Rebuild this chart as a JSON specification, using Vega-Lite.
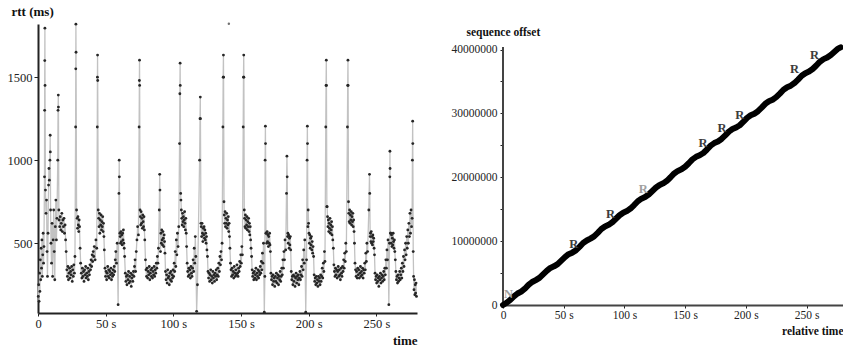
{
  "$schema": "https://vega.github.io/schema/vega-lite/v6.json",
  "background": "white",
  "padding": {"left": 7, "top": 5, "right": 0, "bottom": 0},
  "spacing": 31,
  "config": {
    "font": "Liberation Serif",
    "view": {"stroke": null},
    "axis": {"grid": false, "domainColor": "#222", "tickColor": "#222", "labelColor": "#222", "titleColor": "#111", "labelFlush": false}
  },
  "hconcat": [
    {
      "width": 379,
      "height": 289,
      "layer": [
        {
          "data": {"name": "rtt", "values": [
{"t":0.2,"v":180},{"t":0.5,"v":250},{"t":0.8,"v":150},{"t":1.1,"v":320},{"t":1.4,"v":210},{"t":1.7,"v":400},{"t":2.0,"v":280},{"t":2.3,"v":470},{"t":2.6,"v":350},{"t":2.9,"v":520},{"t":3.2,"v":300},{"t":3.5,"v":430},{"t":3.8,"v":560},{"t":4.1,"v":380},{"t":4.4,"v":480},
{"t":4.8,"v":900},{"t":4.9,"v":1300},{"t":5.0,"v":1600},{"t":5.1,"v":1795},{"t":5.2,"v":1450},
{"t":5.5,"v":820},{"t":5.9,"v":680},{"t":6.3,"v":760},{"t":6.7,"v":450},{"t":7.0,"v":300},{"t":7.4,"v":560},{"t":7.8,"v":850},{"t":8.1,"v":950},{"t":8.4,"v":880},
{"t":8.8,"v":1000},{"t":9.0,"v":1150},{"t":9.1,"v":1050},{"t":9.3,"v":700},{"t":9.6,"v":500},{"t":10.0,"v":380},{"t":10.4,"v":620},{"t":10.8,"v":300},{"t":11.2,"v":520},{"t":11.6,"v":700},{"t":12.0,"v":450},{"t":12.4,"v":280},{"t":12.8,"v":600},{"t":13.2,"v":760},{"t":13.6,"v":520},{"t":14.0,"v":650},
{"t":14.6,"v":1000},{"t":14.8,"v":1300},{"t":15.0,"v":1392},{"t":15.1,"v":1320},{"t":15.4,"v":700},
{"t":15.6,"v":640},{"t":16.0,"v":600},{"t":16.4,"v":660},{"t":16.8,"v":580},{"t":17.2,"v":620},{"t":17.6,"v":680},{"t":18.0,"v":570},{"t":18.4,"v":640},{"t":18.8,"v":600},{"t":19.2,"v":650},{"t":19.6,"v":560},{"t":20.0,"v":610},{"t":20.4,"v":520},{"t":20.8,"v":450},
{"t":21.3,"v":340},{"t":21.7,"v":300},{"t":22.1,"v":360},{"t":22.5,"v":280},{"t":22.9,"v":320},{"t":23.3,"v":350},{"t":23.7,"v":290},{"t":24.1,"v":330},{"t":24.5,"v":310},{"t":24.9,"v":360},{"t":25.3,"v":270},{"t":25.7,"v":340},{"t":26.1,"v":300},{"t":26.5,"v":370},{"t":26.9,"v":320},{"t":27.3,"v":420},
{"t":27.8,"v":1200},{"t":27.9,"v":1550},{"t":28.0,"v":1819},{"t":28.1,"v":1650},{"t":28.5,"v":700},
{"t":28.9,"v":650},{"t":29.2,"v":590},{"t":29.5,"v":660},{"t":29.8,"v":610},{"t":30.1,"v":570},{"t":30.4,"v":640},{"t":30.7,"v":600},{"t":31.1,"v":470},{"t":31.5,"v":380},
{"t":32.0,"v":320},{"t":32.4,"v":290},{"t":32.8,"v":350},{"t":33.2,"v":300},{"t":33.6,"v":330},{"t":34.0,"v":270},{"t":34.4,"v":340},{"t":34.8,"v":310},{"t":35.2,"v":360},{"t":35.6,"v":290},{"t":36.0,"v":320},{"t":36.4,"v":300},{"t":36.8,"v":350},{"t":37.2,"v":280},{"t":37.6,"v":330},{"t":38.0,"v":310},{"t":38.4,"v":370},{"t":38.8,"v":340},{"t":39.2,"v":400},{"t":39.6,"v":360},{"t":40.0,"v":430},{"t":40.4,"v":390},{"t":40.8,"v":450},{"t":41.2,"v":420},{"t":41.6,"v":480},{"t":42.2,"v":400},{"t":42.8,"v":520},{"t":43.4,"v":470},
{"t":43.8,"v":1200},{"t":43.9,"v":1500},{"t":44.0,"v":1633},{"t":44.1,"v":1480},{"t":44.5,"v":700},
{"t":44.8,"v":650},{"t":45.1,"v":600},{"t":45.4,"v":680},{"t":45.7,"v":560},{"t":46.0,"v":640},{"t":46.3,"v":610},{"t":46.6,"v":670},{"t":46.9,"v":580},{"t":47.2,"v":630},{"t":47.5,"v":600},{"t":47.8,"v":660},{"t":48.1,"v":570},{"t":48.4,"v":620},{"t":48.7,"v":540},{"t":49.0,"v":460},
{"t":49.5,"v":350},{"t":49.9,"v":300},{"t":50.3,"v":330},{"t":50.7,"v":280},{"t":51.1,"v":320},{"t":51.5,"v":360},{"t":51.9,"v":300},{"t":52.3,"v":340},{"t":52.7,"v":290},{"t":53.1,"v":330},{"t":53.5,"v":310},{"t":53.9,"v":350},{"t":54.3,"v":280},{"t":54.7,"v":320},{"t":55.1,"v":300},{"t":55.5,"v":340},{"t":55.9,"v":310},{"t":56.3,"v":360},{"t":56.7,"v":330},{"t":57.1,"v":400},{"t":57.5,"v":450},{"t":58.0,"v":380},{"t":58.5,"v":500},
{"t":59.2,"v":130},{"t":59.8,"v":800},{"t":60.0,"v":1000},{"t":60.1,"v":900},{"t":60.5,"v":560},
{"t":60.7,"v":540},{"t":61.0,"v":500},{"t":61.3,"v":570},{"t":61.6,"v":510},{"t":61.9,"v":550},{"t":62.2,"v":490},{"t":62.5,"v":560},{"t":62.8,"v":520},{"t":63.1,"v":580},{"t":63.4,"v":500},{"t":63.7,"v":470},{"t":64.0,"v":420},
{"t":64.5,"v":320},{"t":64.9,"v":270},{"t":65.3,"v":300},{"t":65.7,"v":250},{"t":66.1,"v":310},{"t":66.5,"v":280},{"t":66.9,"v":330},{"t":67.3,"v":260},{"t":67.7,"v":300},{"t":68.1,"v":270},{"t":68.5,"v":320},{"t":68.9,"v":240},{"t":69.3,"v":290},{"t":69.7,"v":310},{"t":70.1,"v":270},{"t":70.5,"v":330},{"t":70.9,"v":300},{"t":71.3,"v":360},{"t":71.7,"v":400},{"t":72.1,"v":330},{"t":72.6,"v":450},{"t":73.1,"v":520},{"t":73.6,"v":600},{"t":74.2,"v":550},
{"t":74.7,"v":1200},{"t":74.9,"v":1480},{"t":75.0,"v":1602},{"t":75.1,"v":1450},{"t":75.4,"v":700},
{"t":75.6,"v":660},{"t":75.9,"v":610},{"t":76.2,"v":690},{"t":76.5,"v":620},{"t":76.8,"v":650},{"t":77.1,"v":590},{"t":77.4,"v":670},{"t":77.7,"v":630},{"t":78.0,"v":600},{"t":78.3,"v":660},{"t":78.6,"v":580},{"t":78.9,"v":520},
{"t":79.4,"v":400},{"t":79.8,"v":340},{"t":80.2,"v":300},{"t":80.6,"v":350},{"t":81.0,"v":290},{"t":81.4,"v":330},{"t":81.8,"v":310},{"t":82.2,"v":360},{"t":82.6,"v":280},{"t":83.0,"v":320},{"t":83.4,"v":340},{"t":83.8,"v":300},{"t":84.2,"v":350},{"t":84.6,"v":290},{"t":85.0,"v":330},{"t":85.4,"v":310},{"t":85.8,"v":360},{"t":86.2,"v":300},{"t":86.6,"v":340},{"t":87.0,"v":320},{"t":87.4,"v":380},{"t":87.8,"v":350},{"t":88.2,"v":420},{"t":88.6,"v":380},{"t":89.0,"v":470},
{"t":89.6,"v":700},{"t":89.9,"v":915},{"t":90.1,"v":820},{"t":90.5,"v":450},
{"t":90.8,"v":560},{"t":91.1,"v":500},{"t":91.4,"v":580},{"t":91.7,"v":520},{"t":92.0,"v":490},{"t":92.3,"v":570},{"t":92.6,"v":530},{"t":92.9,"v":480},{"t":93.2,"v":550},{"t":93.5,"v":510},{"t":93.8,"v":440},
{"t":94.2,"v":330},{"t":94.6,"v":280},{"t":95.0,"v":310},{"t":95.4,"v":260},{"t":95.8,"v":340},{"t":96.2,"v":290},{"t":96.6,"v":300},{"t":97.0,"v":250},{"t":97.4,"v":320},{"t":97.8,"v":280},{"t":98.2,"v":330},{"t":98.6,"v":270},{"t":99.0,"v":310},{"t":99.4,"v":290},{"t":99.8,"v":340},{"t":100.2,"v":300},{"t":100.6,"v":380},{"t":101.0,"v":330},{"t":101.4,"v":450},{"t":101.8,"v":360},{"t":102.2,"v":520},{"t":102.6,"v":430},{"t":103.0,"v":560},{"t":103.5,"v":480},{"t":104.0,"v":600},
{"t":104.6,"v":1100},{"t":104.8,"v":1400},{"t":105.0,"v":1584},{"t":105.1,"v":1450},{"t":105.4,"v":800},
{"t":105.6,"v":760},{"t":105.9,"v":700},{"t":106.2,"v":650},{"t":106.5,"v":610},{"t":106.8,"v":680},{"t":107.1,"v":630},{"t":107.4,"v":660},{"t":107.7,"v":600},{"t":108.0,"v":640},{"t":108.3,"v":690},{"t":108.6,"v":620},{"t":108.9,"v":580},{"t":109.2,"v":650},{"t":109.5,"v":560},{"t":109.8,"v":480},
{"t":110.2,"v":380},{"t":110.6,"v":330},{"t":111.0,"v":300},{"t":111.4,"v":350},{"t":111.8,"v":310},{"t":112.2,"v":340},{"t":112.6,"v":290},{"t":113.0,"v":360},{"t":113.4,"v":320},{"t":113.8,"v":300},{"t":114.2,"v":350},{"t":114.6,"v":400},{"t":115.0,"v":330},{"t":115.4,"v":470},{"t":115.8,"v":380},{"t":116.2,"v":540},{"t":116.6,"v":420},
{"t":117.2,"v":90},{"t":117.8,"v":250},{"t":119.4,"v":1000},{"t":119.7,"v":1250},{"t":119.9,"v":1380},{"t":120.0,"v":1250},{"t":120.4,"v":620},
{"t":120.6,"v":600},{"t":120.9,"v":540},{"t":121.2,"v":620},{"t":121.5,"v":560},{"t":121.8,"v":510},{"t":122.1,"v":590},{"t":122.4,"v":550},{"t":122.7,"v":600},{"t":123.0,"v":530},{"t":123.3,"v":580},{"t":123.6,"v":520},{"t":123.9,"v":560},{"t":124.2,"v":500},{"t":124.5,"v":540},{"t":124.8,"v":460},{"t":125.2,"v":420},
{"t":125.6,"v":330},{"t":126.0,"v":290},{"t":126.4,"v":320},{"t":126.8,"v":270},{"t":127.2,"v":310},{"t":127.6,"v":340},{"t":128.0,"v":280},{"t":128.4,"v":300},{"t":128.8,"v":260},{"t":129.2,"v":330},{"t":129.6,"v":290},{"t":130.0,"v":310},{"t":130.4,"v":270},{"t":130.8,"v":320},{"t":131.2,"v":300},{"t":131.6,"v":340},{"t":132.0,"v":280},{"t":132.4,"v":310},{"t":132.8,"v":350},{"t":133.2,"v":300},{"t":133.6,"v":380},{"t":134.0,"v":330},{"t":134.4,"v":420},{"t":134.8,"v":370},{"t":135.2,"v":450},{"t":135.6,"v":400},{"t":136.0,"v":500},
{"t":136.6,"v":1200},{"t":136.8,"v":1500},{"t":137.0,"v":1633},{"t":137.1,"v":1500},{"t":137.4,"v":750},
{"t":137.6,"v":670},{"t":137.9,"v":620},{"t":138.2,"v":690},{"t":138.5,"v":600},{"t":138.8,"v":650},{"t":139.1,"v":620},{"t":139.4,"v":680},{"t":139.7,"v":590},{"t":140.0,"v":640},{"t":140.3,"v":610},{"t":140.6,"v":660},{"t":140.9,"v":570},{"t":141.2,"v":620},{"t":141.5,"v":540},{"t":141.8,"v":470},
{"t":142.2,"v":380},{"t":142.6,"v":340},{"t":143.0,"v":300},{"t":143.4,"v":350},{"t":143.8,"v":310},{"t":144.2,"v":330},{"t":144.6,"v":290},{"t":145.0,"v":360},{"t":145.4,"v":320},{"t":145.8,"v":300},{"t":146.2,"v":340},{"t":146.6,"v":310},{"t":147.0,"v":370},{"t":147.4,"v":320},{"t":147.8,"v":300},{"t":148.2,"v":350},{"t":148.6,"v":330},{"t":149.0,"v":390},{"t":149.4,"v":360},{"t":149.8,"v":430},{"t":150.2,"v":380},{"t":150.6,"v":480},{"t":151.0,"v":430},
{"t":151.6,"v":1200},{"t":151.8,"v":1500},{"t":152.0,"v":1633},{"t":152.1,"v":1500},{"t":152.4,"v":700},
{"t":152.6,"v":650},{"t":152.9,"v":600},{"t":153.2,"v":670},{"t":153.5,"v":590},{"t":153.8,"v":640},{"t":154.1,"v":610},{"t":154.4,"v":660},{"t":154.7,"v":580},{"t":155.0,"v":630},{"t":155.3,"v":600},{"t":155.6,"v":650},{"t":155.9,"v":570},{"t":156.2,"v":620},{"t":156.5,"v":550},{"t":156.8,"v":600},{"t":157.1,"v":520},{"t":157.4,"v":470},{"t":157.8,"v":420},
{"t":158.2,"v":340},{"t":158.6,"v":300},{"t":159.0,"v":320},{"t":159.4,"v":280},{"t":159.8,"v":330},{"t":160.2,"v":290},{"t":160.6,"v":310},{"t":161.0,"v":350},{"t":161.4,"v":280},{"t":161.8,"v":320},{"t":162.2,"v":300},{"t":162.6,"v":340},{"t":163.0,"v":290},{"t":163.4,"v":330},{"t":163.8,"v":310},{"t":164.2,"v":360},{"t":164.6,"v":320},{"t":165.0,"v":390},{"t":165.4,"v":340},{"t":165.8,"v":440},{"t":166.2,"v":380},{"t":166.6,"v":500},
{"t":167.2,"v":85},{"t":167.6,"v":300},{"t":167.8,"v":1000},{"t":168.0,"v":1205},{"t":168.1,"v":1100},{"t":168.4,"v":560},
{"t":168.7,"v":560},{"t":169.0,"v":500},{"t":169.3,"v":570},{"t":169.6,"v":510},{"t":169.9,"v":550},{"t":170.2,"v":480},{"t":170.5,"v":540},{"t":170.8,"v":500},{"t":171.1,"v":560},{"t":171.4,"v":490},{"t":171.7,"v":450},
{"t":172.1,"v":320},{"t":172.5,"v":280},{"t":172.9,"v":300},{"t":173.3,"v":250},{"t":173.7,"v":310},{"t":174.1,"v":270},{"t":174.5,"v":290},{"t":174.9,"v":240},{"t":175.3,"v":300},{"t":175.7,"v":270},{"t":176.1,"v":320},{"t":176.5,"v":260},{"t":176.9,"v":290},{"t":177.3,"v":310},{"t":177.7,"v":250},{"t":178.1,"v":300},{"t":178.5,"v":280},{"t":178.9,"v":330},{"t":179.3,"v":270},{"t":179.7,"v":300},{"t":180.1,"v":350},{"t":180.5,"v":310},{"t":180.9,"v":400},{"t":181.3,"v":350},{"t":181.7,"v":450},{"t":182.1,"v":400},{"t":182.5,"v":520},{"t":183.0,"v":460},
{"t":183.6,"v":800},{"t":183.9,"v":1024},{"t":184.1,"v":900},{"t":184.4,"v":540},
{"t":184.6,"v":560},{"t":184.9,"v":500},{"t":185.2,"v":550},{"t":185.5,"v":470},{"t":185.8,"v":530},{"t":186.1,"v":490},{"t":186.4,"v":540},{"t":186.7,"v":460},
{"t":187.1,"v":330},{"t":187.5,"v":280},{"t":187.9,"v":300},{"t":188.3,"v":250},{"t":188.7,"v":310},{"t":189.1,"v":270},{"t":189.5,"v":300},{"t":189.9,"v":240},{"t":190.3,"v":290},{"t":190.7,"v":320},{"t":191.1,"v":260},{"t":191.5,"v":300},{"t":191.9,"v":280},{"t":192.3,"v":310},{"t":192.7,"v":250},{"t":193.1,"v":290},{"t":193.5,"v":330},{"t":193.9,"v":280},{"t":194.3,"v":310},{"t":194.7,"v":360},{"t":195.1,"v":300},{"t":195.5,"v":400},{"t":195.9,"v":340},{"t":196.3,"v":460},{"t":196.7,"v":380},{"t":197.1,"v":520},
{"t":197.8,"v":85},{"t":198.4,"v":400},{"t":198.8,"v":1000},{"t":199.0,"v":1205},{"t":199.1,"v":1100},{"t":199.4,"v":600},
{"t":199.6,"v":700},{"t":199.9,"v":620},{"t":200.2,"v":560},{"t":200.5,"v":500},{"t":200.8,"v":550},{"t":201.1,"v":470},{"t":201.4,"v":530},{"t":201.7,"v":490},{"t":202.0,"v":540},{"t":202.3,"v":460},{"t":202.6,"v":510},{"t":202.9,"v":440},{"t":203.2,"v":480},{"t":203.6,"v":420},
{"t":204.0,"v":310},{"t":204.4,"v":270},{"t":204.8,"v":290},{"t":205.2,"v":250},{"t":205.6,"v":300},{"t":206.0,"v":260},{"t":206.4,"v":280},{"t":206.8,"v":240},{"t":207.2,"v":300},{"t":207.6,"v":270},{"t":208.0,"v":290},{"t":208.4,"v":250},{"t":208.8,"v":310},{"t":209.2,"v":270},{"t":209.6,"v":300},{"t":210.0,"v":350},{"t":210.4,"v":290},{"t":210.8,"v":380},{"t":211.2,"v":330},{"t":211.6,"v":450},{"t":212.0,"v":390},
{"t":212.6,"v":1200},{"t":212.8,"v":1450},{"t":213.0,"v":1602},{"t":213.1,"v":1450},{"t":213.4,"v":720},
{"t":213.6,"v":720},{"t":213.9,"v":660},{"t":214.2,"v":600},{"t":214.5,"v":640},{"t":214.8,"v":570},{"t":215.1,"v":620},{"t":215.4,"v":590},{"t":215.7,"v":650},{"t":216.0,"v":560},{"t":216.3,"v":610},{"t":216.6,"v":580},{"t":216.9,"v":630},{"t":217.2,"v":550},{"t":217.5,"v":600},{"t":217.8,"v":520},{"t":218.2,"v":470},
{"t":218.6,"v":370},{"t":219.0,"v":330},{"t":219.4,"v":300},{"t":219.8,"v":350},{"t":220.2,"v":310},{"t":220.6,"v":340},{"t":221.0,"v":290},{"t":221.4,"v":330},{"t":221.8,"v":360},{"t":222.2,"v":300},{"t":222.6,"v":340},{"t":223.0,"v":310},{"t":223.4,"v":280},{"t":223.8,"v":350},{"t":224.2,"v":320},{"t":224.6,"v":300},{"t":225.0,"v":360},{"t":225.4,"v":330},{"t":225.8,"v":400},{"t":226.2,"v":350},{"t":226.6,"v":440},{"t":227.0,"v":390},{"t":227.4,"v":500},{"t":227.8,"v":450},
{"t":228.6,"v":1200},{"t":228.8,"v":1450},{"t":229.0,"v":1602},{"t":229.1,"v":1450},{"t":229.4,"v":750},
{"t":229.6,"v":680},{"t":229.9,"v":630},{"t":230.2,"v":700},{"t":230.5,"v":620},{"t":230.8,"v":670},{"t":231.1,"v":640},{"t":231.4,"v":690},{"t":231.7,"v":610},{"t":232.0,"v":660},{"t":232.3,"v":630},{"t":232.6,"v":680},{"t":232.9,"v":600},{"t":233.2,"v":640},{"t":233.5,"v":570},{"t":233.8,"v":500},
{"t":234.2,"v":380},{"t":234.6,"v":340},{"t":235.0,"v":300},{"t":235.4,"v":330},{"t":235.8,"v":290},{"t":236.2,"v":350},{"t":236.6,"v":310},{"t":237.0,"v":340},{"t":237.4,"v":290},{"t":237.8,"v":320},{"t":238.2,"v":360},{"t":238.6,"v":300},{"t":239.0,"v":330},{"t":239.4,"v":310},{"t":239.8,"v":350},{"t":240.2,"v":290},{"t":240.6,"v":340},{"t":241.0,"v":320},{"t":241.4,"v":380},{"t":241.8,"v":340},{"t":242.2,"v":440},{"t":242.6,"v":390},{"t":243.0,"v":500},{"t":243.5,"v":450},
{"t":244.4,"v":700},{"t":244.9,"v":915},{"t":245.1,"v":800},{"t":245.4,"v":540},
{"t":245.6,"v":560},{"t":245.9,"v":510},{"t":246.2,"v":570},{"t":246.5,"v":500},{"t":246.8,"v":540},{"t":247.1,"v":490},{"t":247.4,"v":550},{"t":247.7,"v":510},{"t":248.0,"v":530},{"t":248.3,"v":470},{"t":248.6,"v":430},
{"t":249.0,"v":320},{"t":249.4,"v":280},{"t":249.8,"v":300},{"t":250.2,"v":260},{"t":250.6,"v":310},{"t":251.0,"v":270},{"t":251.4,"v":290},{"t":251.8,"v":240},{"t":252.2,"v":300},{"t":252.6,"v":280},{"t":253.0,"v":320},{"t":253.4,"v":260},{"t":253.8,"v":290},{"t":254.2,"v":310},{"t":254.6,"v":270},{"t":255.0,"v":300},{"t":255.4,"v":330},{"t":255.8,"v":280},{"t":256.2,"v":350},{"t":256.6,"v":310},{"t":257.0,"v":400},{"t":257.4,"v":350},{"t":257.8,"v":460},{"t":258.2,"v":400},{"t":258.6,"v":520},
{"t":259.2,"v":130},{"t":259.7,"v":500},{"t":259.9,"v":900},{"t":260.0,"v":1054},{"t":260.1,"v":950},{"t":260.4,"v":560},
{"t":260.6,"v":560},{"t":260.9,"v":500},{"t":261.2,"v":550},{"t":261.5,"v":480},{"t":261.8,"v":530},{"t":262.1,"v":490},{"t":262.4,"v":560},{"t":262.7,"v":510},{"t":263.0,"v":470},{"t":263.3,"v":520},{"t":263.6,"v":450},{"t":264.0,"v":400},
{"t":264.4,"v":330},{"t":264.8,"v":280},{"t":265.2,"v":300},{"t":265.6,"v":260},{"t":266.0,"v":310},{"t":266.4,"v":270},{"t":266.8,"v":290},{"t":267.2,"v":330},{"t":267.6,"v":280},{"t":268.0,"v":310},{"t":268.4,"v":350},{"t":268.8,"v":290},{"t":269.2,"v":380},{"t":269.6,"v":330},{"t":270.0,"v":420},{"t":270.4,"v":360},{"t":270.8,"v":460},{"t":271.2,"v":400},{"t":271.6,"v":500},{"t":272.0,"v":430},{"t":272.4,"v":540},{"t":272.8,"v":470},{"t":273.2,"v":580},{"t":273.6,"v":500},{"t":274.0,"v":620},{"t":274.4,"v":540},{"t":274.8,"v":680},{"t":275.2,"v":560},
{"t":275.6,"v":700},{"t":276.0,"v":600},{"t":276.4,"v":650},{"t":276.6,"v":1000},{"t":276.8,"v":1235},{"t":276.9,"v":1100},{"t":277.2,"v":450},{"t":277.5,"v":300},{"t":277.8,"v":220},{"t":278.1,"v":280},{"t":278.4,"v":190},{"t":278.7,"v":250},{"t":279.0,"v":200},{"t":279.3,"v":260},{"t":279.6,"v":180}
          ]},
          "layer": [
            {"mark": {"type": "line", "color": "#c2c2c2", "strokeWidth": 1.3}, "encoding": {}},
            {"mark": {"type": "point", "filled": true, "size": 8, "color": "#262626", "opacity": 1}, "encoding": {}}
          ]
        },
        {
          "data": {"values": [{"t": 141, "v": 1822}]},
          "mark": {"type": "point", "filled": true, "size": 6, "color": "#333333"},
          "encoding": {}
        }
      ],
      "encoding": {
        "x": {"field": "t", "type": "quantitative", "scale": {"domain": [0, 280], "nice": false, "zero": false},
              "axis": {"title": "time", "titleAnchor": "end", "titleFontWeight": "bold", "titleFontSize": 13, "titlePadding": 5,
                       "values": [0, 50, 100, 150, 200, 250], "labelExpr": "datum.value == 0 ? '0' : datum.value + ' s'",
                       "labelFontSize": 12.5, "domainWidth": 2, "tickSize": 3, "labelPadding": 1}},
        "y": {"field": "v", "type": "quantitative", "scale": {"domain": [80, 1820], "nice": false, "zero": false},
              "axis": {"title": "rtt (ms)", "titleAngle": 0, "titleX": -27, "titleY": -9, "titleAlign": "left", "titleBaseline": "alphabetic",
                       "titleFontWeight": "bold", "titleFontSize": 13, "values": [500, 1000, 1500], "format": "d",
                       "labelFontSize": 12.5, "domainWidth": 2, "tickSize": 4, "labelPadding": 2}}
      }
    },
    {
      "width": 340,
      "height": 281,
      "layer": [
        {
          "data": {"values": [{"t": 0, "s": 0, "s2": 40400000}]},
          "mark": {"type": "rule", "color": "#444444", "strokeWidth": 2},
          "encoding": {"y2": {"field": "s2"}}
        },
        {
          "data": {"values": [
{"t":0,"s":0},{"t":3,"s":350000},{"t":6,"s":800000},{"t":9,"s":1350000},{"t":12,"s":1800000},{"t":15,"s":2100000},{"t":18,"s":2550000},{"t":21,"s":3150000},{"t":24,"s":3600000},{"t":27,"s":3900000},{"t":30,"s":4250000},{"t":33,"s":4800000},{"t":36,"s":5350000},{"t":39,"s":5800000},{"t":42,"s":6050000},{"t":45,"s":6400000},{"t":48,"s":6950000},{"t":51,"s":7500000},{"t":54,"s":7950000},{"t":57,"s":8200000},{"t":60,"s":8550000},{"t":63,"s":9100000},{"t":66,"s":9700000},{"t":69,"s":10100000},{"t":72,"s":10400000},{"t":75,"s":10750000},{"t":78,"s":11300000},{"t":81,"s":11900000},{"t":84,"s":12300000},{"t":87,"s":12550000},{"t":90,"s":12950000},{"t":93,"s":13500000},{"t":96,"s":14050000},{"t":99,"s":14450000},{"t":102,"s":14700000},{"t":105,"s":15100000},{"t":108,"s":15650000},{"t":111,"s":16250000},{"t":114,"s":16650000},{"t":117,"s":16900000},{"t":120,"s":17300000},{"t":123,"s":17850000},{"t":126,"s":18400000},{"t":129,"s":18800000},{"t":132,"s":19050000},{"t":135,"s":19450000},{"t":138,"s":20000000},{"t":141,"s":20600000},{"t":144,"s":21000000},{"t":147,"s":21250000},{"t":150,"s":21650000},{"t":153,"s":22200000},{"t":156,"s":22800000},{"t":159,"s":23200000},{"t":162,"s":23450000},{"t":165,"s":23800000},{"t":168,"s":24350000},{"t":171,"s":24950000},{"t":174,"s":25350000},{"t":177,"s":25600000},{"t":180,"s":26000000},{"t":183,"s":26550000},{"t":186,"s":27150000},{"t":189,"s":27550000},{"t":192,"s":27800000},{"t":195,"s":28150000},{"t":198,"s":28700000},{"t":201,"s":29300000},{"t":204,"s":29700000},{"t":207,"s":29950000},{"t":210,"s":30350000},{"t":213,"s":30900000},{"t":216,"s":31500000},{"t":219,"s":31900000},{"t":222,"s":32150000},{"t":225,"s":32550000},{"t":228,"s":33100000},{"t":231,"s":33700000},{"t":234,"s":34100000},{"t":237,"s":34350000},{"t":240,"s":34750000},{"t":243,"s":35300000},{"t":246,"s":35900000},{"t":249,"s":36300000},{"t":252,"s":36550000},{"t":255,"s":36950000},{"t":258,"s":37500000},{"t":261,"s":38100000},{"t":264,"s":38500000},{"t":267,"s":38750000},{"t":270,"s":39150000},{"t":273,"s":39650000},{"t":276,"s":40150000},{"t":278,"s":40350000}
          ]},
          "mark": {"type": "line", "color": "#000000", "strokeWidth": 6, "strokeCap": "round", "strokeJoin": "round"},
          "encoding": {}
        },
        {
          "data": {"values": [
            {"t": 58.2, "s": 9530000, "label": "R", "k": "retransmit"},
            {"t": 88.5, "s": 14200000, "label": "R", "k": "retransmit"},
            {"t": 115.6, "s": 18100000, "label": "R", "k": "other"},
            {"t": 164.8, "s": 25300000, "label": "R", "k": "retransmit"},
            {"t": 180.3, "s": 27700000, "label": "R", "k": "retransmit"},
            {"t": 195.0, "s": 29800000, "label": "R", "k": "retransmit"},
            {"t": 240.0, "s": 36900000, "label": "R", "k": "retransmit"},
            {"t": 256.6, "s": 39200000, "label": "R", "k": "retransmit"},
            {"t": 4.5, "s": 1800000, "label": "N", "k": "other"}
          ]},
          "mark": {"type": "text", "fontSize": 12.5, "font": "Liberation Serif", "fontWeight": "bold"},
          "encoding": {
            "text": {"field": "label"},
            "color": {"field": "k", "type": "nominal", "scale": {"domain": ["retransmit", "other"], "range": ["#3c3c3c", "#a0a0a0"]}, "legend": null}
          }
        }
      ],
      "encoding": {
        "x": {"field": "t", "type": "quantitative", "scale": {"domain": [0, 280], "nice": false, "zero": false},
              "axis": {"title": "relative time", "titleAnchor": "end", "titleFontWeight": "bold", "titleFontSize": 11.5, "titlePadding": 5,
                       "values": [0, 50, 100, 150, 200, 250], "labelExpr": "datum.value == 0 ? '0' : datum.value + ' s'",
                       "labelFontSize": 11.5, "domainWidth": 2, "domainColor": "#444", "tickSize": 3, "labelPadding": 1}},
        "y": {"field": "s", "type": "quantitative", "scale": {"domain": [0, 44000000], "nice": false, "zero": false},
              "axis": {"title": "sequence offset", "titleAngle": 0, "titleX": -37, "titleY": 11, "titleAlign": "left", "titleBaseline": "alphabetic",
                       "titleFontWeight": "bold", "titleFontSize": 11.5, "domain": false,
                       "values": [0, 5000000, 10000000, 15000000, 20000000, 25000000, 30000000, 35000000, 40000000],
                       "labelExpr": "datum.value % 10000000 == 0 ? format(datum.value, 'd') : ''",
                       "labelFontSize": 11.5, "tickSize": 3, "labelPadding": 3}}
      }
    }
  ]
}
